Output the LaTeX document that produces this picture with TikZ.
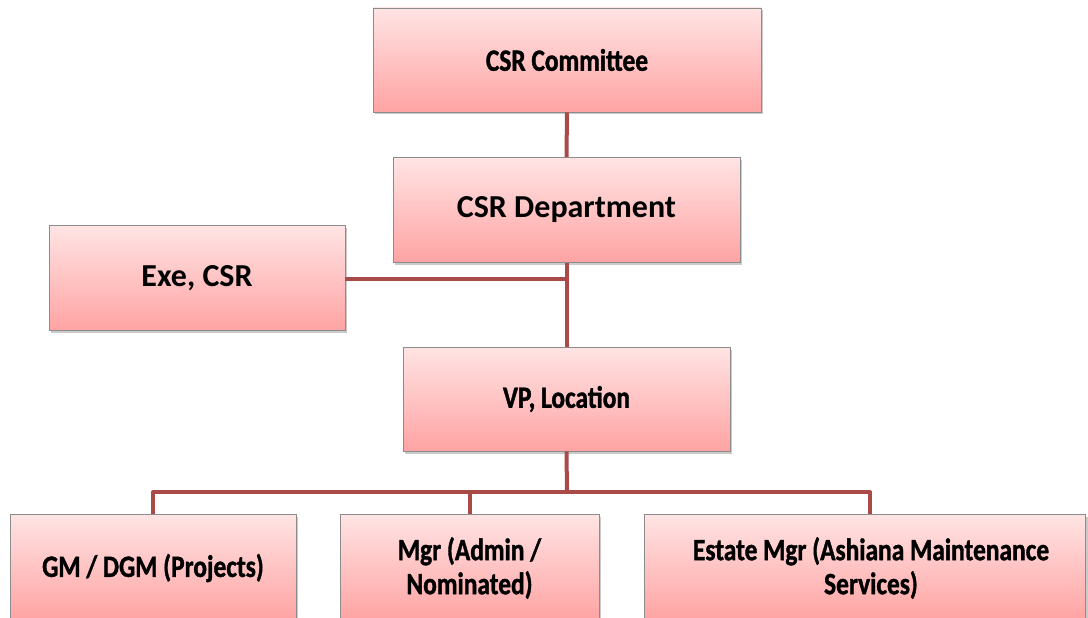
\documentclass[tikz,border=0pt]{standalone}
\usepackage{fontspec}
\setmainfont{Carlito}
\newfontfamily\agency[FakeStretch=0.82,FakeBold=1.2]{Carlito}
\usetikzlibrary{shadows}
\definecolor{linec}{HTML}{A94A48}
\definecolor{topc}{HTML}{FFE4E4}
\definecolor{botc}{HTML}{FFA3A3}
\definecolor{bordc}{HTML}{8C8C8C}
\tikzset{
  box/.style={draw=bordc, line width=0.7pt, top color=topc, bottom color=botc,
    drop shadow={shadow xshift=2pt, shadow yshift=-2.5pt, opacity=0.35, fill=black!60},
    inner sep=0pt, align=center, text=black},
  ag/.style={font=\agency\bfseries\fontsize{31}{34}\selectfont},
  cal/.style={font=\bfseries\fontsize{32}{36}\selectfont},
  conn/.style={draw=linec, line width=4pt},
}
\begin{document}
\begin{tikzpicture}[x=1pt,y=-1pt]
\useasboundingbox (0,0) rectangle (1088,618);
\coordinate (j1) at (567,279);
\coordinate (bus) at (567,492);
\coordinate (bl) at (153,492);
\coordinate (bm) at (470,492);
\coordinate (br) at (870,492);
\node[box, ag, minimum width=388pt, minimum height=104pt] (comm) at (567,60) {CSR Committee};
\node[box, cal, minimum width=347pt, minimum height=105pt] (dept) at (566.5,210) {CSR Department};
\node[box, cal, minimum width=296pt, minimum height=105pt] (exe) at (197,278) {Exe, CSR};
\node[box, ag, minimum width=327pt, minimum height=104pt] (vp) at (566.5,399) {VP, Location};
\node[box, minimum width=286pt, minimum height=106pt] (gm) at (153,567) {};
\node[box, minimum width=259pt, minimum height=106pt] (mgr) at (469.5,567) {};
\node[box, minimum width=441pt, minimum height=106pt] (est) at (865,567) {};
\node[ag] (gmt) at (153,568) {GM / DGM (Projects)};
\node[ag, align=center] (mgrt) at (469.5,568) {Mgr (Admin /\\Nominated)};
\node[ag, align=center] (estt) at (871,568) {Estate Mgr (Ashiana Maintenance\\Services)};
\draw[conn] (comm.south) -- (dept.north);
\draw[conn] (dept.south) -- (vp.north);
\draw[conn] (exe.east |- j1) -- (j1);
\draw[conn] (vp.south) -- (bus);
\draw[conn, line join=round] (gm.north -| bl) -- (bl) -- (br) -- (est.north -| br);
\draw[conn] (bm) -- (mgr.north -| bm);
\end{tikzpicture}
\end{document}
